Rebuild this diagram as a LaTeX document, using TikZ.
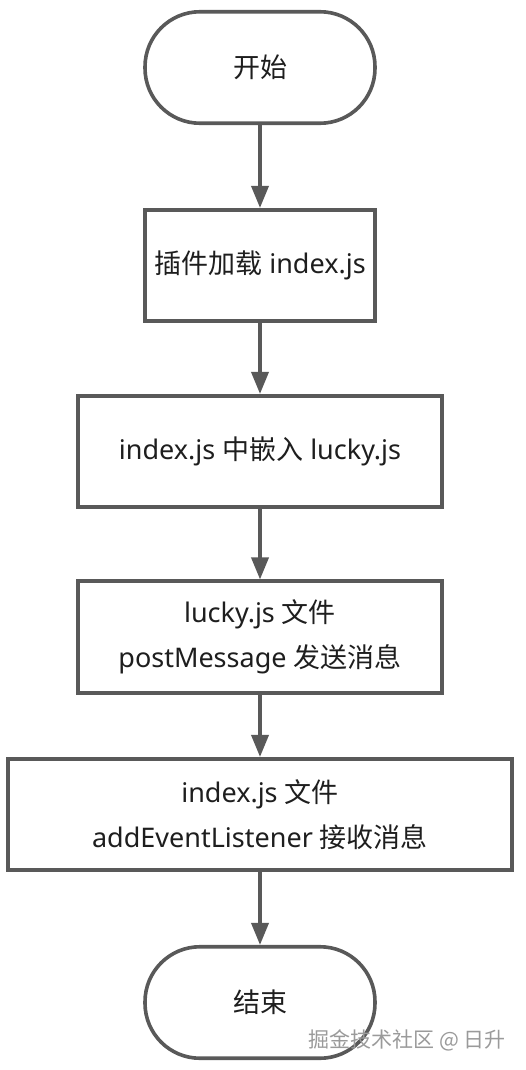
\documentclass[tikz,border=0pt]{standalone}
\usepackage{fontspec}
\setmainfont{Noto Sans}
\newfontfamily\cjk{Noto Sans CJK SC}
\usetikzlibrary{arrows.meta}
\definecolor{edge}{HTML}{595959}
\definecolor{ink}{HTML}{1E1E1E}
\definecolor{wm}{HTML}{9A9A9A}
\tikzset{
  base/.style={draw=edge, line width=3.6pt, fill=white, text=ink, align=center,
    font=\fontsize{27}{45}\selectfont, inner sep=0pt, minimum height=111.5pt},
  term/.style={base, rounded corners=55pt, minimum width=230pt},
  proc/.style={base},
  flow/.style={draw=edge, line width=3.6pt, -{Triangle[width=17pt,length=22pt]}},
}
\begin{document}
\begin{tikzpicture}[x=1pt,y=-1pt]
\useasboundingbox (0,0) rectangle (526,1070);
\node[term] (start) at (260,67.5) {\cjk 开始};
\node[proc, minimum width=230pt] (load) at (260,265.5) {{\cjk 插件加载} index.js};
\node[proc, minimum width=364pt] (embed) at (260,451.5) {index.js {\cjk 中嵌入} lucky.js};
\node[proc, minimum width=364pt] (post) at (260,637) {lucky.js {\cjk 文件}\\postMessage {\cjk 发送消息}};
\node[proc, minimum width=504pt] (recv) at (260,814.5) {index.js {\cjk 文件}\\addEventListener {\cjk 接收消息}};
\node[term] (end) at (260,1002.5) {\cjk 结束};
\draw[flow] (start) -- (load);
\draw[flow] (load) -- (embed);
\draw[flow] (embed) -- (post);
\draw[flow] (post) -- (recv);
\draw[flow] (recv) -- (end);
\node[text=wm, font=\cjk\fontsize{21}{21}\selectfont, inner sep=0pt] (mark) at (407,1040) {掘金技术社区 @ 日升};
\end{tikzpicture}
\end{document}
